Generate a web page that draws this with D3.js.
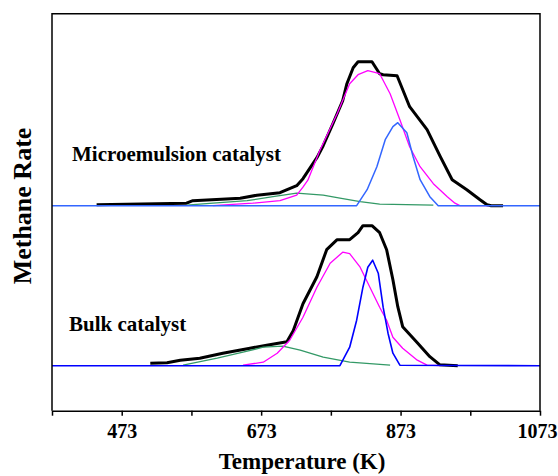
<!DOCTYPE html>
<html>
<head>
<meta charset="utf-8">
<script src="https://cdn.jsdelivr.net/npm/d3@7"></script>
<style>
    body { margin: 0; background: #fff; }
    text { font-family: "Liberation Serif", "Times New Roman", serif; font-weight: bold; fill: #000; }
</style>
</head>
<body>
<script>
//svg size
var w = 558, h = 476;

//x axis ticks (K) and which ones get a label
var tickValues = [373, 473, 573, 673, 773, 873, 973, 1073];
var tickLabels = [473, 673, 873, 1073];

//baseline of each trace, in rate units above the axis
var panelOffsets = [205, 45];
var panelNames = ["Microemulsion catalyst", "Bulk catalyst"];

//microemulsion catalyst traces [temperature K, rate]
var microTotal = [[437,1],[566,2.5],[575,5],[643,7.5],[667,10.5],[700,13],[724,20],[733,27],[753,48],[762,60],[776,82],[790,105],[796,122],[805,138],[812,144],[832,144],[843,132],[848,131],[868,130],[886,99],[911,76],[930,49],[947,26],[968,16],[987,6],[997,1],[1003,0],[1020,0]];
var microPeak1 = [[566,0.5],[604,2.5],[653,5],[690,9],[724,12.5],[762,10.5],[786,7.5],[815,4],[843,1.5],[920,0.5]];
var microPeak2 = [[604,0],[661,2.5],[700,5],[724,10.5],[733,18.5],[740,25.5],[757,55],[782,92],[800,122],[812,131],[826,135],[843,132],[858,112],[872,86],[886,59],[901,39],[920,22],[940,9],[951,2.5],[958,0],[1000,0]];
var microPeak3 = [[373,0],[810,0],[825,16],[839,39],[851,66],[862,79],[869,83],[882,73],[891,49],[901,26],[915,9],[927,0],[1073,0]];

//bulk catalyst traces [temperature K, rate]
var bulkTotal = [[514,2.5],[538,3],[557,5.5],[585,7.5],[618,12.5],[657,17.5],[681,20.5],[710,24],[719,35],[733,62],[753,89],[767,116],[782,126],[800,126],[812,133],[819,140],[832,140],[843,133],[853,116],[862,86],[869,59],[876,39],[897,23],[915,9],[929,1],[955,0]];
var bulkPeak1 = [[561,0.5],[610,7.5],[647,13.5],[676,18.5],[704,19.5],[729,15.5],[762,8.5],[800,3.5],[858,0.5]];
var bulkPeak2 = [[647,0.5],[676,3.5],[696,12.5],[714,25.5],[733,48.5],[753,78.5],[772,102.5],[790,113.5],[800,112],[815,98.5],[829,78.5],[843,58.5],[853,45.5],[862,28.5],[876,17.5],[897,5.5],[911,0.5],[930,0]];
var bulkPeak3 = [[373,0],[786,0],[800,18.5],[810,45.5],[819,78.5],[826,98.5],[833,105.5],[841,92.5],[848,58.5],[855,32.5],[862,12.5],[872,0.5],[1073,0]];

window.onload = function(){
    var svg = d3.select("body")
        .append("svg")
        .attr("width", w)
        .attr("height", h);

    //scales
    var x = d3.scaleLinear()
        .domain([373, 1073])
        .range([52, 540]);
    var y = d3.scaleLinear()
        .domain([0, 397])
        .range([410.7, 13.7]);

    //traces, black total drawn first
    var panels = [
        {offset: panelOffsets[0], series: [
            {data: microTotal, color: "#000", width: 3},
            {data: microPeak1, color: "#339966", width: 1.3},
            {data: microPeak2, color: "#ff00ff", width: 1.3},
            {data: microPeak3, color: "#3366ff", width: 1.5}
        ]},
        {offset: panelOffsets[1], series: [
            {data: bulkTotal, color: "#000", width: 3},
            {data: bulkPeak1, color: "#339966", width: 1.3},
            {data: bulkPeak2, color: "#ff00ff", width: 1.3},
            {data: bulkPeak3, color: "#0000ff", width: 1.6}
        ]}
    ];

    panels.forEach(function(p){
        var line = d3.line()
            .x(function(d){ return x(d[0]); })
            .y(function(d){ return y(d[1] + p.offset); });
        svg.selectAll(null)
            .data(p.series)
            .enter()
            .append("path")
            .attr("d", function(d){ return line(d.data); })
            .style("fill", "none")
            .style("stroke", function(d){ return d.color; })
            .style("stroke-width", function(d){ return d.width; })
            .style("stroke-linejoin", "round");
    });

    //frame: left, top and right sides
    svg.append("path")
        .attr("d", "M" + x(373) + "," + y(0) + "V" + y(397) + "H" + x(1073) + "V" + y(0))
        .style("fill", "none")
        .style("stroke", "#000")
        .style("stroke-width", 1.5);

    //bottom axis
    var xAxis = d3.axisBottom(x)
        .tickValues(tickValues)
        .tickSize(5)
        .tickPadding(8)
        .tickSizeOuter(0)
        .tickFormat(function(d){ return tickLabels.indexOf(d) >= 0 ? d : ""; });
    var axis = svg.append("g")
        .attr("transform", "translate(0," + y(0) + ")")
        .call(xAxis);
    axis.select(".domain").style("stroke-width", 1.5);
    axis.selectAll(".tick line").style("stroke-width", 1.5);
    axis.selectAll("text")
        .style("font-family", "'Liberation Serif', serif")
        .style("font-weight", "bold")
        .style("font-size", "20px")
        .attr("dx", function(d){ return d === 1073 ? -3 : 0; });

    //panel labels
    svg.append("text")
        .attr("x", 72)
        .attr("y", 161)
        .style("font-size", "21px")
        .text(panelNames[0]);
    svg.append("text")
        .attr("x", 69)
        .attr("y", 331)
        .style("font-size", "21px")
        .text(panelNames[1]);

    //axis titles
    svg.append("text")
        .attr("text-anchor", "middle")
        .attr("x", 302)
        .attr("y", 469)
        .style("font-size", "23px")
        .text("Temperature (K)");
    svg.append("text")
        .attr("text-anchor", "middle")
        .attr("transform", "translate(31,206) rotate(-90)")
        .style("font-size", "26px")
        .text("Methane Rate");
};
</script>
</body>
</html>
